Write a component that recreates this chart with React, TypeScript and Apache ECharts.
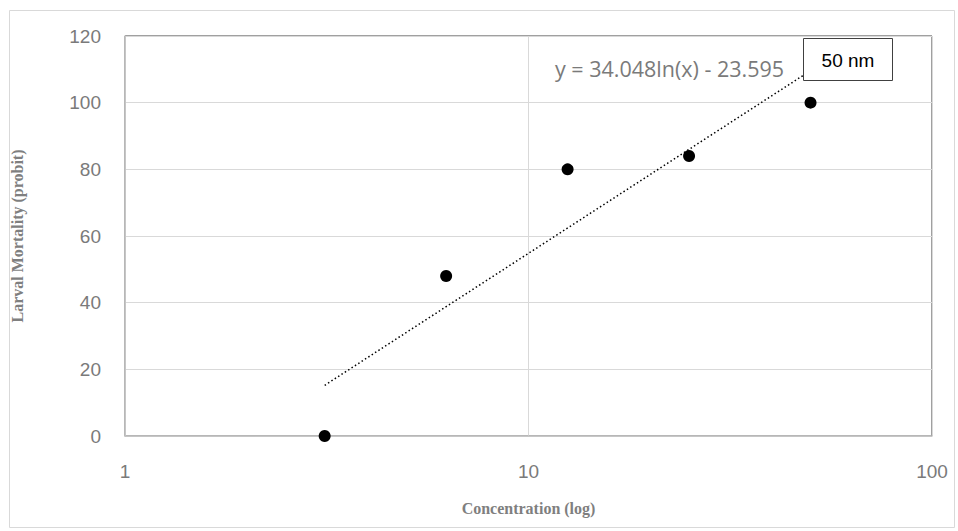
import React, { useEffect, useRef } from "react";
import * as echarts from "echarts";

const concentrations = [3.125, 6.25, 12.5, 25, 50];
const mortality = [0, 48, 80, 84, 100];
const trendX = [3.125, 50];
const trendY = [15.2, 109.6];
const equationText = "y = 34.048ln(x) - 23.595";
const boxLabel = "50 nm";
const xTitle = "Concentration (log)";
const yTitle = "Larval Mortality (probit)";

export default function App() {
  const ref = useRef<HTMLDivElement>(null);
  useEffect(() => {
    if (!ref.current) return;
    const chart = echarts.init(ref.current, null, { renderer: "svg" });
    const labelFont = "Liberation Sans, Arial, sans-serif";
    chart.setOption({
      animation: false,
      backgroundColor: "#ffffff",
      grid: {
        left: 125,
        top: 36,
        right: 26,
        bottom: 95,
        show: true,
        borderColor: "#404040",
        borderWidth: 1,
      },
      xAxis: {
        type: "log",
        logBase: 10,
        min: 1,
        max: 100,
        axisLine: { show: true, lineStyle: { color: "#bfbfbf", width: 1.5 } },
        axisTick: { show: false },
        splitLine: { show: true, lineStyle: { color: "#d9d9d9", width: 1 } },
        axisLabel: { color: "#7a7a7a", fontSize: 19, fontFamily: labelFont, margin: 26 },
        name: xTitle,
        nameLocation: "middle",
        nameGap: 64,
        nameTextStyle: {
          color: "#7f7f7f",
          fontSize: 16,
          fontWeight: "bold",
          fontFamily: "Liberation Serif, Times New Roman, serif",
        },
      },
      yAxis: {
        type: "value",
        min: 0,
        max: 120,
        interval: 20,
        axisLine: { show: true, lineStyle: { color: "#bfbfbf", width: 1.5 } },
        axisTick: { show: false },
        splitLine: { show: true, lineStyle: { color: "#d9d9d9", width: 1 } },
        axisLabel: { color: "#7a7a7a", fontSize: 19, fontFamily: labelFont, margin: 24 },
        name: yTitle,
        nameLocation: "middle",
        nameGap: 100,
        nameTextStyle: {
          color: "#7f7f7f",
          fontSize: 16,
          fontWeight: "bold",
          fontFamily: "Liberation Serif, Times New Roman, serif",
        },
      },
      series: [
        {
          type: "line",
          data: trendX.map((x, i) => [x, trendY[i]]),
          showSymbol: false,
          symbol: "none",
          lineStyle: { color: "#000000", width: 1.5, type: [1.5, 2.5] },
          z: 2,
        },
        {
          type: "scatter",
          data: concentrations.map((x, i) => [x, mortality[i]]),
          symbol: "circle",
          symbolSize: 12,
          itemStyle: { color: "#000000", opacity: 1 },
          z: 3,
        },
      ],
      graphic: [
        {
          type: "rect",
          shape: { x: 9.5, y: 10.5, width: 945, height: 517 },
          style: { fill: "none", stroke: "#d9d9d9", lineWidth: 1 },
          z: -1,
          silent: true,
        },
        {
          type: "text",
          left: 555,
          top: 57,
          style: {
            text: equationText,
            fill: "#7a7a7a",
            fontSize: 21.5,
            fontFamily: "Open Sans, sans-serif",
          },
          z: 10,
        },
        {
          type: "rect",
          shape: { x: 803.5, y: 38.5, width: 89, height: 42 },
          style: { fill: "#ffffff", stroke: "#404040", lineWidth: 1 },
          z: 10,
        },
        {
          type: "text",
          x: 848,
          y: 60,
          style: {
            text: boxLabel,
            fill: "#000000",
            fontSize: 19,
            fontFamily: labelFont,
            align: "center",
            verticalAlign: "middle",
          },
          z: 11,
        },
      ],
    });
    return () => chart.dispose();
  }, []);
  return (
    <div
      ref={ref}
      style={{ position: "absolute", left: 0, top: 0, width: 958, height: 531 }}
    />
  );
}
